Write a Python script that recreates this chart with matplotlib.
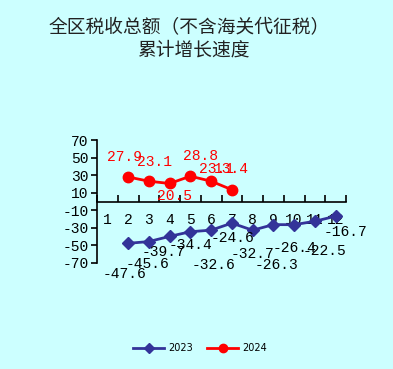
import matplotlib
matplotlib.use("Agg")
import matplotlib.pyplot as plt
import numpy as np

# datos
months = list(range(1, 13))
m2023 = [2, 3, 4, 5, 6, 7, 8, 9, 10, 11, 12]
v2023 = [-47.6, -45.6, -39.7, -34.4, -32.6, -24.6, -32.7, -26.3, -26.4, -22.5, -16.7]
m2024 = [2, 3, 4, 5, 6, 7]
v2024 = [27.9, 23.1, 20.5, 28.8, 23.1, 13.4]
yticks = [-70, -50, -30, -10, 10, 30, 50, 70]

# desplazamientos de etiquetas (px)
off2023 = [(-4, -31), (-1, -22), (-6, -16), (0, -13), (2, -35), (1, -15),
           (0, -24), (3, -40), (0, -23), (10, -30), (10, -16)]
off2024 = [(-4, 20), (6, 19), (5, -13), (10, 20), (5, 12), (0, 21)]

bg = "#CCFFFF"
num_font = "Liberation Mono"

fig = plt.figure(figsize=(3.93, 3.69), dpi=100, facecolor=bg)
ax = fig.add_axes([97/393, 1-263/369, 249/393, 123/369])
ax.set_facecolor(bg)

ax.plot(m2023, v2023, color="#333399", lw=2, marker="D", ms=6.5, label="2023")
ax.plot(m2024, v2024, color="#FF0000", lw=2, marker="o", ms=7.5, label="2024")

for x, y, (dx, dy) in zip(m2023, v2023, off2023):
    ax.annotate(f"{y:.1f}", (x, y), xytext=(dx*0.72, dy*0.72), textcoords="offset points",
                ha="center", va="center", fontsize=10.5, family=num_font, color="black")
for x, y, (dx, dy) in zip(m2024, v2024, off2024):
    ax.annotate(f"{y:.1f}", (x, y), xytext=(dx*0.72, dy*0.72), textcoords="offset points",
                ha="center", va="center", fontsize=10.5, family=num_font, color="#FF0000")

ax.set_xlim(0.5, 12.5)
ax.set_ylim(-70, 70)
ax.spines["top"].set_visible(False)
ax.spines["right"].set_visible(False)
ax.spines["bottom"].set_position(("data", 0))
ax.spines["bottom"].set_linewidth(1.2)
ax.spines["left"].set_linewidth(1.2)

ax.set_yticks(yticks)
ax.set_yticklabels([str(t) for t in yticks], family=num_font, fontsize=10.5)
ax.tick_params(axis="y", direction="out", length=4, width=1.2, pad=2)

ax.set_xticks(months)
ax.set_xticklabels([str(m) for m in months], family=num_font, fontsize=10.5)
ax.tick_params(axis="x", which="major", length=0, pad=8)
ax.set_xticks(np.arange(0.5, 13, 1), minor=True)
ax.tick_params(axis="x", which="minor", direction="in", length=5, width=1.2)

fig.text(189/393, 1-28/369, "全区税收总额（不含海关代征税）", ha="center", va="center",
         fontsize=13.5, family="Noto Sans CJK SC", color="#222222")
fig.text(193/393, 1-50/369, "累计增长速度", ha="center", va="center",
         fontsize=13.5, family="Noto Sans CJK SC", color="#222222")

leg = fig.legend(loc="center", bbox_to_anchor=(200/393, 1-348/369), ncol=2, frameon=False,
                 fontsize=7, handlelength=3.2, handletextpad=0.4, columnspacing=1.5,
                 markerscale=0.8)

fig.savefig("out.png", dpi=100, facecolor=bg)
